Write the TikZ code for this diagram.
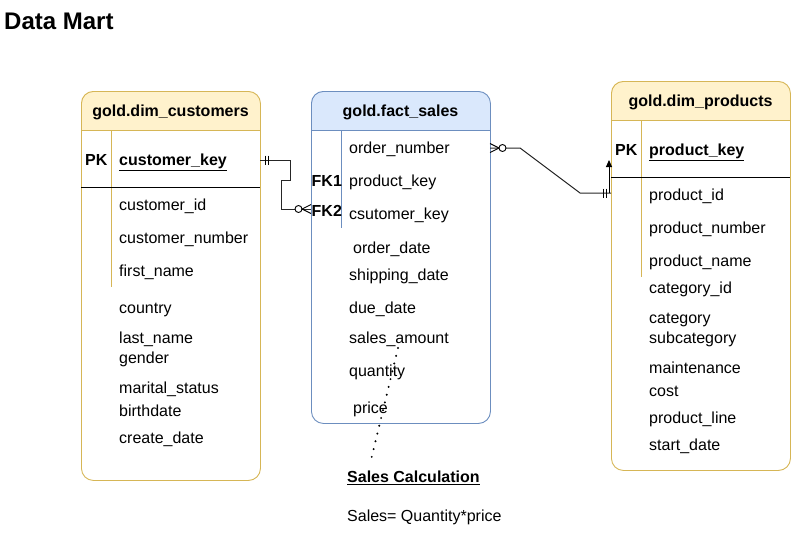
\documentclass[tikz,border=0pt]{standalone}
\usepackage{fontspec}
\setmainfont{Liberation Sans}
\usetikzlibrary{arrows.meta}
\begin{document}
\begin{tikzpicture}[x=1pt,y=-1pt,
  tbl/.style={draw=#1, line width=0.9pt, rounded corners=12pt, anchor=north west, inner sep=0pt},
  fld/.style={anchor=west, inner sep=0pt, yshift=-1.5pt, text height=11.5pt, text depth=3.5pt, font=\fontsize{16}{19}\selectfont},
  key/.style={fld, font=\fontsize{16}{19}\selectfont\bfseries},
  hdrtext/.style={inner sep=0pt, yshift=-1.5pt, text height=11.5pt, text depth=3.5pt, font=\fontsize{16}{19}\selectfont\bfseries},
  sep/.style={draw=#1, line width=0.9pt},
  conn/.style={draw=black!85, line width=1pt},
  ermark/.style={draw=black, line width=0.9pt}
]
\useasboundingbox (0,0) rectangle (791,533);
\definecolor{ylw}{HTML}{FFF2CC}
\definecolor{ylwd}{HTML}{D6B656}
\definecolor{blu}{HTML}{DAE8FC}
\definecolor{blud}{HTML}{6C8EBF}

\node[anchor=west, inner sep=0pt, font=\fontsize{24}{28}\selectfont\bfseries] (title) at (4,21) {Data Mart};

% ---------- customers ----------
\begin{scope}
\clip[rounded corners=12pt] (81,91) rectangle (260,480);
\fill[ylw] (81,91) rectangle (260,130);
\end{scope}
\node[tbl=ylwd, minimum width=179pt, minimum height=389pt] (cust) at (81,91) {};
\draw[sep=ylwd] (81,130) -- (260,130);
\draw[sep=ylwd] (111,130) -- (111,287);
\draw[line width=0.9pt] (81,187) -- (260,187);
\node[hdrtext] (custh) at (170.5,111) {gold.dim\_customers};
\node[key] (custpk) at (85,160) {PK};
\node[key] (custk) at (119,160) {\underline{customer\_key}};
\node[fld] (c1) at (119,205) {customer\_id};
\node[fld] (c2) at (119,238) {customer\_number};
\node[fld] (c3) at (119,271) {first\_name};
\node[fld] (c4) at (119,308) {country};
\node[fld] (c5) at (119,338) {last\_name};
\node[fld] (c6) at (119,358) {gender};
\node[fld] (c7) at (119,388) {marital\_status};
\node[fld] (c8) at (119,411) {birthdate};
\node[fld] (c9) at (119,438) {create\_date};

% ---------- fact sales ----------
\begin{scope}
\clip[rounded corners=12pt] (311,91) rectangle (490,423);
\fill[blu] (311,91) rectangle (490,130);
\end{scope}
\node[tbl=blud, minimum width=179pt, minimum height=332pt] (fact) at (311,91) {};
\draw[sep=blud] (311,130) -- (490,130);
\draw[sep=blud] (341,130) -- (341,228);
\node[hdrtext] (facth) at (400.5,111) {gold.fact\_sales};
\node[fld] (f1) at (349,148) {order\_number};
\node[key] (fk1) at (311.5,181) {FK1};
\node[fld] (f2) at (349,181) {product\_key};
\node[key] (fk2) at (311.5,211) {FK2};
\node[fld] (f3) at (349,214) {csutomer\_key};
\node[fld] (f4) at (353,248) {order\_date};
\node[fld] (f5) at (349,275) {shipping\_date};
\node[fld] (f6) at (349,308) {due\_date};
\node[fld] (f7) at (349,338) {sales\_amount};
\node[fld] (f8) at (349,371) {quantity};
\node[fld] (f9) at (353,408) {price};

% ---------- products ----------
\begin{scope}
\clip[rounded corners=12pt] (611,81) rectangle (790,470);
\fill[ylw] (611,81) rectangle (790,120);
\end{scope}
\node[tbl=ylwd, minimum width=179pt, minimum height=389pt] (prod) at (611,81) {};
\draw[sep=ylwd] (611,120) -- (790,120);
\draw[sep=ylwd] (641,120) -- (641,277);
\draw[line width=0.9pt] (611,177) -- (790,177);
\node[hdrtext] (prodh) at (700.5,101) {gold.dim\_products};
\node[key] (prodpk) at (615,150) {PK};
\node[key] (prodk) at (649,150) {\underline{product\_key}};
\node[fld] (p1) at (649,195) {product\_id};
\node[fld] (p2) at (649,228) {product\_number};
\node[fld] (p3) at (649,261) {product\_name};
\node[fld] (p4) at (649,288) {category\_id};
\node[fld] (p5) at (649,318) {category};
\node[fld] (p6) at (649,338) {subcategory};
\node[fld] (p7) at (649,368) {maintenance};
\node[fld] (p8) at (649,391) {cost};
\node[fld] (p9) at (649,418) {product\_line};
\node[fld] (p10) at (649,445) {start\_date};

% ---------- connectors ----------
\coordinate (ckend) at (260,160);
\coordinate (fk2end) at (311,209);
\draw[conn] (ckend) -- (290,160) -- (290,180) -- (281,180) -- (281,209) -- (fk2end);
% one mandatory at customers
\draw[ermark] (265,155.5) -- (265,164.5);
\draw[ermark] (268,155.5) -- (268,164.5);
% zero or many at fact (FK2)
\draw[ermark, fill=white] (298.5,209) circle (3.5pt);
\draw[ermark] (311,204.5) -- (302,209) -- (311,213.5);

\coordinate (onend) at (490,148);
\coordinate (pkend) at (611,193);
\draw[conn] (onend) -- (520,148) -- (580,193) -- (pkend);
% zero or many at fact (order_number side)
\draw[ermark] (490,143.5) -- (499,148) -- (490,152.5);
\draw[ermark, fill=white] (502.5,148) circle (3.5pt);
% one mandatory at products
\draw[ermark] (603,188.5) -- (603,197.5);
\draw[ermark] (606.5,188.5) -- (606.5,197.5);
% small arrow
\coordinate (arrbase) at (609,193);
\coordinate (arrtip) at (609,160);
\draw[line width=1pt, -{Triangle[length=7pt,width=6pt]}] (arrbase) -- (arrtip);

% ---------- sales calculation ----------
\coordinate (dotA) at (398,348);
\coordinate (dotB) at (371,460);
\draw[line width=2.2pt, line cap=round, dash pattern=on 0pt off 8pt] (dotA) -- (dotB);
\node[key] (calc) at (347,477) {\underline{Sales Calculation}};
\node[fld] (formula) at (347,516) {Sales= Quantity*price};
\end{tikzpicture}
\end{document}
